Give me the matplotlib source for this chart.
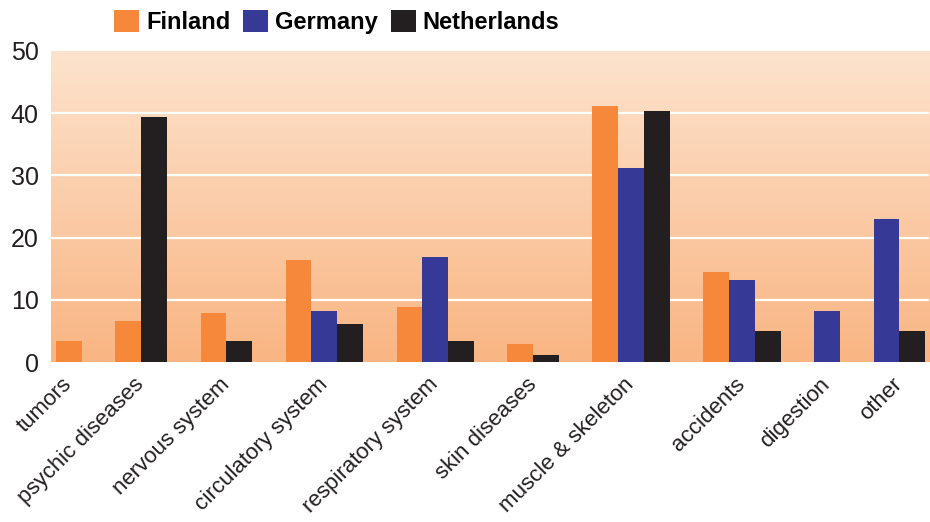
import numpy as np
import matplotlib
matplotlib.use("Agg")
from matplotlib import pyplot as plt
from matplotlib.patches import Patch

categories = ["tumors", "psychic diseases", "nervous system", "circulatory system",
              "respiratory system", "skin diseases", "muscle & skeleton",
              "accidents", "digestion", "other"]
finland = [3.4, 6.6, 7.9, 16.4, 8.8, 2.9, 41.2, 14.5, np.nan, np.nan]
germany = [np.nan, np.nan, np.nan, 8.2, 16.9, np.nan, 31.2, 13.2, 8.2, 23.0]
netherlands = [np.nan, 39.4, 3.3, 6.1, 3.3, 1.2, 40.4, 5.0, np.nan, 5.0]

series = [("Finland", finland, "#f5883a"),
          ("Germany", germany, "#373997"),
          ("Netherlands", netherlands, "#231f20")]

yticks = [0, 10, 20, 30, 40, 50]

plt.rcParams['font.family'] = ['Liberation Sans', 'DejaVu Sans']

fig = plt.figure(figsize=(9.3, 5.22), dpi=100)
ax = fig.add_axes([51 / 930, 1 - 362 / 522, 878 / 930, 311 / 522])

# bars of a group sit side by side, missing values leave no gap
gap = 1.3
x = 0.2
centers = []
for i in range(len(categories)):
    start = x
    for name, vals, col in series:
        v = vals[i]
        if not np.isnan(v):
            ax.bar(x, v, width=1.0, align='edge', color=col, zorder=3)
            x += 1.0
    centers.append((start + x) / 2)
    x += gap
xmax = x - gap + 0.15

ax.set_xlim(0, xmax)
ax.set_ylim(0, 50)

# gradient background
grad = np.linspace(0, 1, 256)[:, None, None]
top = np.array([253, 227, 205]) / 255
bot = np.array([249, 181, 131]) / 255
img = top + (bot - top) * grad
ax.imshow(img, extent=[0, xmax, 0, 50], aspect='auto', zorder=0, origin='upper')

for y in yticks[1:-1]:
    ax.axhline(y, color='white', lw=1.6, zorder=1)

for s in ax.spines.values():
    s.set_visible(False)
ax.set_yticks(yticks)
ax.set_yticklabels([str(t) for t in yticks], fontsize=18, color='#231f20')
ax.tick_params(axis='both', length=0)
ax.tick_params(axis='y', pad=9)
ax.set_xticks(centers)
ax.set_xticklabels(categories, rotation=45, ha='right', va='center',
                   rotation_mode='anchor', fontsize=16, color='#231f20')
ax.tick_params(axis='x', pad=14)

handles = [Patch(facecolor=c, label=n) for n, _, c in series]
fig.legend(handles=handles, ncol=3, loc='upper left', bbox_to_anchor=(93 / 930, 1.022),
           frameon=False, handlelength=1.05, handleheight=1.05, handletextpad=0.3,
           columnspacing=0.55,
           prop={'weight': 'bold', 'size': 17})

fig.savefig("out.png", dpi=100)
